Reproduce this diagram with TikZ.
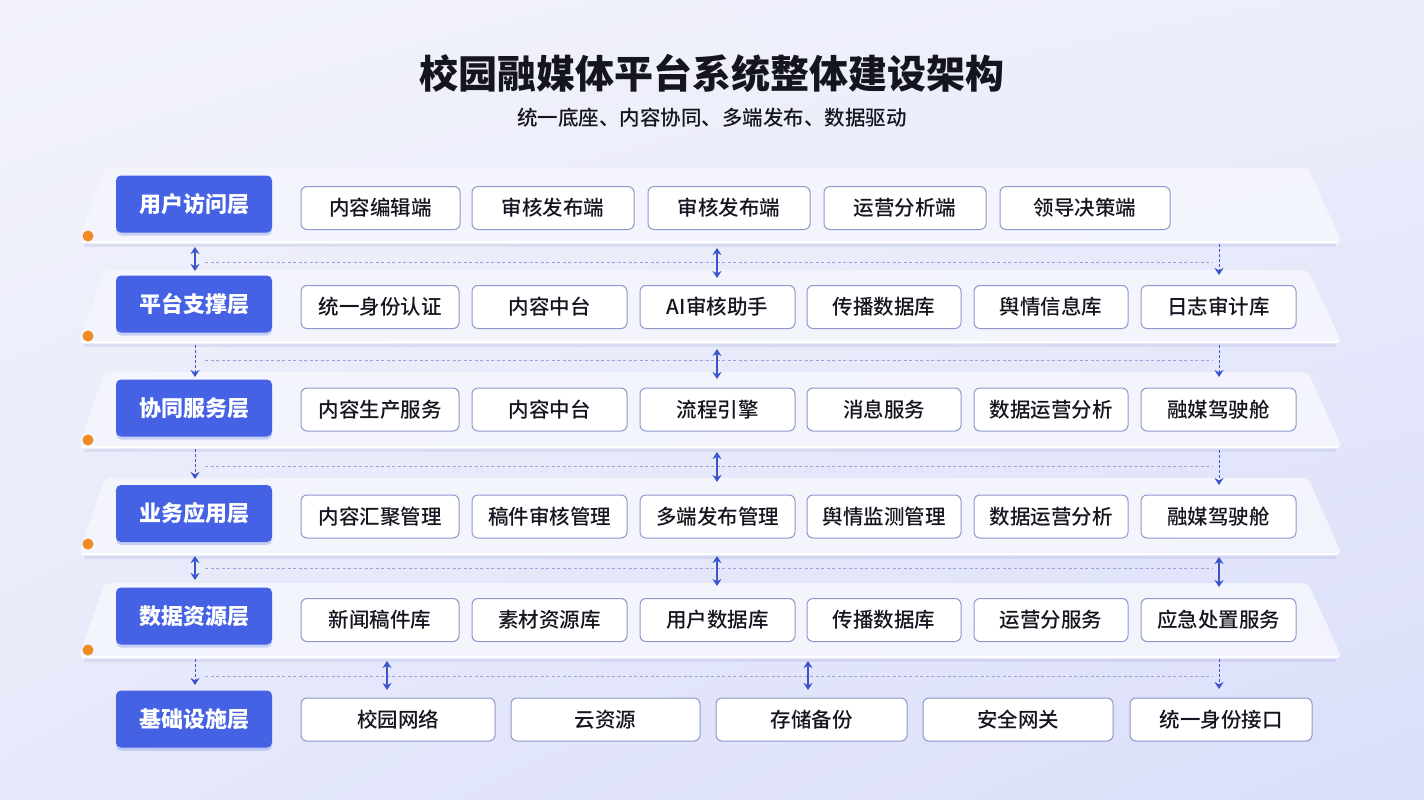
\documentclass[tikz,border=0pt]{standalone}
\usepackage{fontspec}
\setmainfont{Noto Sans CJK SC}
\newfontfamily\medf{Noto Sans CJK SC Medium}
\usetikzlibrary{arrows.meta,shadows,shadings}
\definecolor{bgtl}{HTML}{F2F3FA}
\definecolor{bgtr}{HTML}{ECEEFB}
\definecolor{bgbl}{HTML}{E6E9FA}
\definecolor{bgbr}{HTML}{DADEFA}
\definecolor{lblue}{HTML}{4561E4}
\definecolor{bbord}{HTML}{8F97CC}
\definecolor{arrblue}{HTML}{3B53CF}
\definecolor{dashc}{HTML}{9AA3D6}
\definecolor{bandc}{HTML}{F6F7FD}
\definecolor{dotc}{HTML}{F08A24}
\definecolor{ttl}{HTML}{15151F}
\tikzset{
  layerbox/.style={rounded corners=5pt, fill=lblue, text=white,
    font=\bfseries\fontsize{22}{26}\selectfont, minimum width=156pt,
    minimum height=57pt, inner sep=0pt,
    drop shadow={shadow xshift=0pt, shadow yshift=-3pt, fill=lblue, opacity=0.25}},
  itembox/.style={rounded corners=6pt, draw=bbord, line width=1pt, fill=white,
    text=ttl, font=\medf\fontsize{20.5}{24}\selectfont, minimum height=43pt, inner sep=0pt},
  band/.style={fill=bandc, fill opacity=0.85, rounded corners=6pt},
  bandedge/.style={draw=white, line width=2pt},
  bandshadow/.style={draw=bbord, draw opacity=0.18, line width=3pt},
  dbl/.style={{Stealth[length=7pt,width=9pt]}-{Stealth[length=7pt,width=9pt]}, draw=arrblue, line width=1.8pt},
  dn/.style={-{Stealth[length=7pt,width=9pt]}, draw=arrblue, line width=0.9pt, dash pattern=on 3pt off 2pt},
  hdash/.style={draw=dashc, line width=0.9pt, dash pattern=on 3pt off 2.5pt},
  orange/.style={circle, fill=dotc, minimum size=11pt, inner sep=0pt}
}
\begin{document}
\begin{tikzpicture}[x=1pt,y=-1pt]
\useasboundingbox (0,0) rectangle (1424,800);
\shade[upper left=bgtl, upper right=bgtr, lower left=bgbl, lower right=bgbr] (0,0) rectangle (1424,800);

% title
\node[font=\bfseries\fontsize{39}{46}\selectfont, text=ttl] (title) at (712,73) {校园融媒体平台系统整体建设架构};
\node[font=\medf\fontsize{20.5}{24}\selectfont, text=ttl] (subtitle) at (712,118) {统一底座、内容协同、多端发布、数据驱动};

% bands
\foreach \t/\b in {168/243, 270/343, 372/448, 478/555, 583/658}{
  \draw[bandshadow] (84,\b+2) -- (1336,\b+2);
  \fill[band] (105,\t) -- (1308,\t) -- (1342,\b) -- (78,\b) -- cycle;
  \draw[bandedge] (82,\b-1) -- (1338,\b-1);
}
\node[orange] (d1) at (88,236) {};
\node[orange] (d2) at (88,336) {};
\node[orange] (d3) at (88,440) {};
\node[orange] (d4) at (88,544) {};
\node[orange] (d5) at (88,650) {};

% layer boxes
\node[layerbox] (L1) at (194,204) {用户访问层};
\node[layerbox] (L2) at (194,304) {平台支撑层};
\node[layerbox] (L3) at (194,408) {协同服务层};
\node[layerbox] (L4) at (194,513.5) {业务应用层};
\node[layerbox] (L5) at (194,616) {数据资源层};
\node[layerbox] (L6) at (194,719) {基础设施层};

% row 1
\node[itembox, minimum width=159pt] (a1) at (380.5,208) {内容编辑端};
\node[itembox, minimum width=162pt] (a2) at (553,208) {审核发布端};
\node[itembox, minimum width=162pt] (a3) at (729,208) {审核发布端};
\node[itembox, minimum width=162pt] (a4) at (905,208) {运营分析端};
\node[itembox, minimum width=170pt] (a5) at (1085,208) {领导决策端};

% rows 2-5
\foreach \r/\y/\ta/\tb/\tc/\td/\te/\tf in {
  b/307/统一身份认证/内容中台/AI审核助手/传播数据库/舆情信息库/日志审计库,
  c/409.5/内容生产服务/内容中台/流程引擎/消息服务/数据运营分析/融媒驾驶舱,
  d/516.5/内容汇聚管理/稿件审核管理/多端发布管理/舆情监测管理/数据运营分析/融媒驾驶舱,
  e/620/新闻稿件库/素材资源库/用户数据库/传播数据库/运营分服务/应急处置服务}{
  \node[itembox, minimum width=158pt] (\r1) at (380,\y) {\ta};
  \node[itembox, minimum width=155pt] (\r2) at (549.5,\y) {\tb};
  \node[itembox, minimum width=155pt] (\r3) at (717.5,\y) {\tc};
  \node[itembox, minimum width=154pt] (\r4) at (884,\y) {\td};
  \node[itembox, minimum width=154pt] (\r5) at (1051,\y) {\te};
  \node[itembox, minimum width=155pt] (\r6) at (1218.5,\y) {\tf};
}

% row 6
\node[itembox, minimum width=194pt] (f1) at (398,719.5) {校园网络};
\node[itembox, minimum width=189pt] (f2) at (605.5,719.5) {云资源};
\node[itembox, minimum width=191pt] (f3) at (811.5,719.5) {存储备份};
\node[itembox, minimum width=190pt] (f4) at (1018,719.5) {安全网关};
\node[itembox, minimum width=182pt] (f5) at (1221,719.5) {统一身份接口};

% horizontal dashed guides
\coordinate (h1s) at (205,262); \coordinate (h1e) at (1213,262);
\coordinate (h2s) at (205,360); \coordinate (h2e) at (1213,360);
\coordinate (h3s) at (205,466); \coordinate (h3e) at (1213,466);
\coordinate (h4s) at (205,568); \coordinate (h4e) at (1213,568);
\coordinate (h5s) at (205,676); \coordinate (h5e) at (1213,676);
\foreach \s/\e in {h1s/h1e,h2s/h2e,h3s/h3e,h4s/h4e,h5s/h5e}
  \draw[hdash] (\s) -- (\e);

% gap 1-2
\coordinate (g1la) at (195,247); \coordinate (g1lb) at (195,271);
\coordinate (g1ca) at (717,248); \coordinate (g1cb) at (717,278);
\coordinate (g1ra) at (1219,244); \coordinate (g1rb) at (1219,275);
\draw[dbl] (g1la) -- (g1lb);
\draw[dbl] (g1ca) -- (g1cb);
\draw[dn] (g1ra) -- (g1rb);
% gap 2-3
\coordinate (g2la) at (195,345); \coordinate (g2lb) at (195,377);
\coordinate (g2ca) at (717,349); \coordinate (g2cb) at (717,379);
\coordinate (g2ra) at (1219,345); \coordinate (g2rb) at (1219,377);
\draw[dn] (g2la) -- (g2lb);
\draw[dbl] (g2ca) -- (g2cb);
\draw[dn] (g2ra) -- (g2rb);
% gap 3-4
\coordinate (g3la) at (195,449); \coordinate (g3lb) at (195,479);
\coordinate (g3ca) at (717,452); \coordinate (g3cb) at (717,482);
\coordinate (g3ra) at (1219,450); \coordinate (g3rb) at (1219,485);
\draw[dn] (g3la) -- (g3lb);
\draw[dbl] (g3ca) -- (g3cb);
\draw[dn] (g3ra) -- (g3rb);
% gap 4-5
\coordinate (g4la) at (195,556); \coordinate (g4lb) at (195,580);
\coordinate (g4ca) at (717,556); \coordinate (g4cb) at (717,586);
\coordinate (g4ra) at (1219,557); \coordinate (g4rb) at (1219,587);
\draw[dbl] (g4la) -- (g4lb);
\draw[dbl] (g4ca) -- (g4cb);
\draw[dbl] (g4ra) -- (g4rb);
% gap 5-6
\coordinate (g5la) at (195,659); \coordinate (g5lb) at (195,685);
\coordinate (g5aa) at (387,661); \coordinate (g5ab) at (387,690);
\coordinate (g5ba) at (808,661); \coordinate (g5bb) at (808,690);
\coordinate (g5ra) at (1219,659); \coordinate (g5rb) at (1219,689);
\draw[dn] (g5la) -- (g5lb);
\draw[dbl] (g5aa) -- (g5ab);
\draw[dbl] (g5ba) -- (g5bb);
\draw[dn] (g5ra) -- (g5rb);
\end{tikzpicture}
\end{document}
